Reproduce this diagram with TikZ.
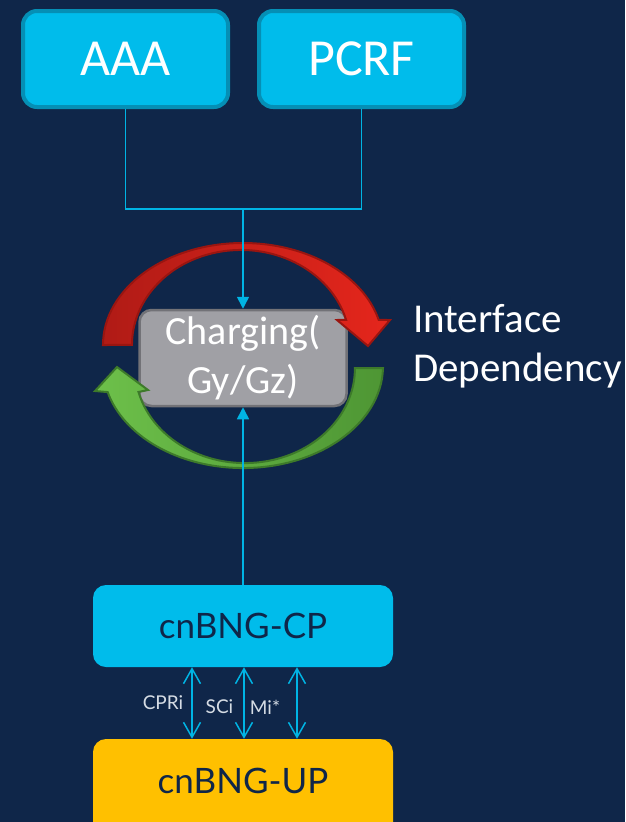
\documentclass[tikz,border=0pt]{standalone}
\usepackage{fontspec}
\setmainfont{Carlito}
\newfontfamily\labelfont{Lato}
\usetikzlibrary{arrows.meta}
\definecolor{navy}{HTML}{0F2649}
\definecolor{cyanfill}{HTML}{00BCEB}
\definecolor{cyanedge}{HTML}{058FB5}
\definecolor{linkcol}{HTML}{00B4E4}
\definecolor{grayfill}{HTML}{A0A0A5}
\definecolor{grayedge}{HTML}{727277}
\definecolor{redA}{HTML}{B01B16}
\definecolor{redB}{HTML}{E5261C}
\definecolor{rededge}{HTML}{9A1510}
\definecolor{greenA}{HTML}{6DC04A}
\definecolor{greenB}{HTML}{4E9634}
\definecolor{greenedge}{HTML}{3D7A2A}
\definecolor{upfill}{HTML}{FFC000}
\definecolor{softwhite}{HTML}{D5DCE4}
\tikzset{
  topbox/.style={draw=cyanedge, line width=4pt, fill=cyanfill, rounded corners=14pt,
    minimum width=205pt, minimum height=96pt, text=white, inner sep=0pt,
    font=\fontsize{52}{60}\selectfont},
  chargebox/.style={draw=grayedge, line width=2.5pt, fill=grayfill, rounded corners=12pt,
    minimum width=207pt, minimum height=96pt, text=white, inner sep=0pt, align=center,
    font=\fontsize{40}{49}\selectfont},
  bngbox/.style={rounded corners=13pt, minimum width=300pt, inner sep=0pt,
    text=navy, font=\labelfont\fontsize{35}{40}\selectfont},
  link/.style={draw=linkcol, line width=1.6pt},
  feed/.style={link, -{Triangle[length=12pt,width=12pt]}},
  both/.style={link, {Straight Barb[length=15pt,width=17pt,line width=1.5pt]}-{Straight Barb[length=15pt,width=17pt,line width=1.5pt]}},
  iflabel/.style={text=softwhite, inner sep=0pt, font=\labelfont\fontsize{19}{22}\selectfont},
  redarc/.style={draw=rededge, line width=2pt, left color=redA, right color=redB},
  greenarc/.style={draw=greenedge, line width=2pt, left color=greenA, right color=greenB}
}
\begin{document}
\begin{tikzpicture}[x=1pt,y=1pt]
  % page and background
  \fill[navy] (0,0) rectangle (625,-822);
  \useasboundingbox (0,0) rectangle (625,-822);
  \clip (0,0) rectangle (625,-822);

  % policy servers
  \node[topbox] (aaa) at (125.5,-59) {AAA};
  \node[topbox] (pcrf) at (361.5,-59) {PCRF};

  % charging function
  \node[chargebox] (chg) at (243,-358) {Charging(\\Gy/Gz)};

  % dependency loop round the charging function
  \path[redarc] (103,-345) arc[start angle=180, end angle=14.2, x radius=140, y radius=102]
    -- (390,-320) -- (368,-346) -- (337,-320) -- (346.1,-319.9)
    arc[start angle=15.3, end angle=180, x radius=109, y radius=95] -- cycle;
  \path[greenarc] (383,-368) arc[start angle=358.9, end angle=194.8, x radius=140, y radius=102]
    -- (95,-391) -- (117,-367) -- (148,-390) -- (138.5,-392)
    arc[start angle=194.6, end angle=360, x radius=110, y radius=95] -- cycle;

  \node[text=white, inner sep=0pt, anchor=north west, align=left,
    font=\fontsize{41}{49}\selectfont] (dep) at (413,-304) {Interface\\Dependency};

  % links from the policy servers
  \coordinate (join) at (243,-209);
  \draw[link] (aaa.south) |- (join);
  \draw[link] (pcrf.south) |- (join);
  \draw[feed] (join) -- (chg.north);

  % BNG control and user planes
  \node[bngbox, fill=cyanfill, minimum height=82pt] (cp) at (243,-626) {cnBNG-CP};
  \node[bngbox, fill=upfill, minimum height=100pt, text depth=0pt] (up) at (243,-789) {};
  \node[text=navy, inner sep=0pt, font=\labelfont\fontsize{35}{40}\selectfont] (uplabel) at (243,-781) {cnBNG-UP};

  \draw[feed] (cp.north) -- (chg.south);

  % control/user plane interfaces
  \draw[both] (cp.south -| 192,0) -- (up.north -| 192,0);
  \draw[both] (cp.south -| 244,0) -- (up.north -| 244,0);
  \draw[both] (cp.south -| 297,0) -- (up.north -| 297,0);
  \node[iflabel] (cpri) at (163,-703) {CPRi};
  \node[iflabel] (sci) at (219.5,-707) {SCi};
  \node[iflabel] (mi) at (265,-707) {Mi*};
\end{tikzpicture}
\end{document}
